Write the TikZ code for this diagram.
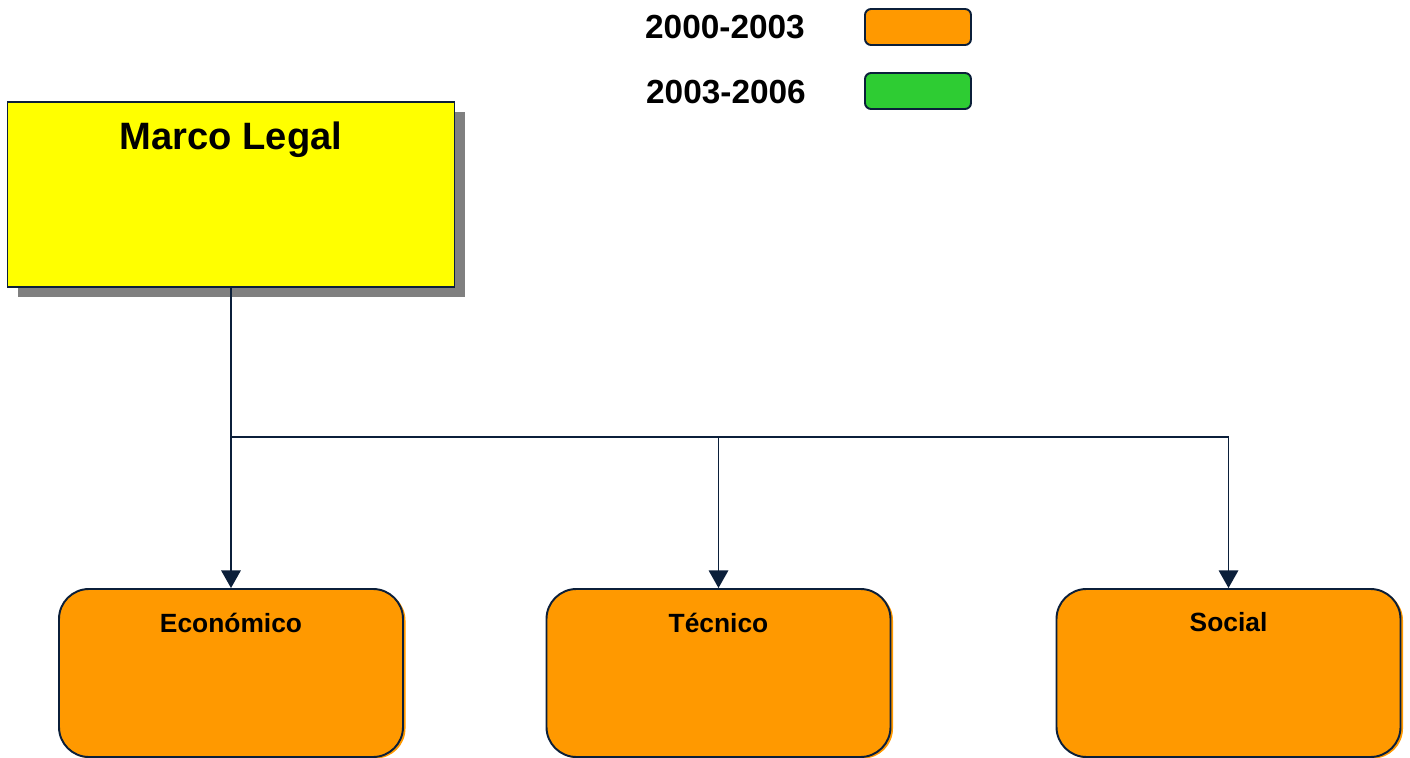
\documentclass[tikz,border=0pt]{standalone}
\usepackage{fontspec}
\setmainfont{Liberation Sans}
\usetikzlibrary{arrows.meta}
\usetikzlibrary{shadows}
\definecolor{navy}{HTML}{0B1F3A}
\definecolor{boxorange}{HTML}{FF9900}
\definecolor{boxgreen}{HTML}{2ECC33}
\definecolor{boxyellow}{HTML}{FFFF00}
\definecolor{shadowgray}{HTML}{808080}
\tikzset{
    area/.style={
        draw=navy, line width=1.1pt, fill=boxorange, rounded corners=0.6cm,
        minimum width=6.88cm, minimum height=3.36cm,
        copy shadow={shadow xshift=0.05cm, shadow yshift=-0.03cm, draw=none, fill=boxorange}
    },
    legendbox/.style={
        draw=navy, line width=1.1pt, rounded corners=0.12cm,
        minimum width=2.12cm, minimum height=0.72cm
    },
    link/.style={navy, line width=1.1pt},
    areatitle/.style={anchor=north, font=\fontsize{15}{18}\selectfont\bfseries, yshift=-0.37cm}
}

\begin{document}
\begin{tikzpicture}
	\useasboundingbox (0,0) rectangle (28.2,-15.16);

	% legend
	\node[font=\fontsize{19}{22}\selectfont\bfseries] (t1) at (14.5,-0.54) {2000-2003};
	\node[font=\fontsize{19}{22}\selectfont\bfseries] (t2) at (14.52,-1.84) {2003-2006};
	\node[legendbox,fill=boxorange] (k1) at (18.36,-0.54) {};
	\node[legendbox,fill=boxgreen] (k2) at (18.36,-1.82) {};

	% main box
	\fill[shadowgray] (0.36,-2.24) rectangle (9.3,-5.94);
	\node[draw=navy,line width=1.1pt,fill=boxyellow,minimum width=8.94cm,minimum height=3.7cm,
		label={[anchor=north,yshift=-0.3cm,font=\fontsize{21.7}{25}\selectfont\bfseries]north:Marco Legal}]
		(legal) at (4.62,-3.89) {};

	% three areas
	\node[area,label={[areatitle]north:Económico}] (eco) at (4.62,-13.46) {};
	\node[area,label={[areatitle]north:Técnico}] (tec) at (14.37,-13.46) {};
	\node[area,label={[areatitle]north:Social}] (soc) at (24.57,-13.46) {};

	\coordinate (bus) at (4.62,-8.74);
	\draw[link] (legal.south) -- (bus);
	\draw[link,-{Triangle[width=11pt,length=10pt]}] (bus) -- (eco.north);
	\draw[link,-{Triangle[width=11pt,length=10pt]}] (bus) -| (tec.north);
	\draw[link,-{Triangle[width=11pt,length=10pt]}] (bus) -| (soc.north);

	\end{tikzpicture}
\end{document}
